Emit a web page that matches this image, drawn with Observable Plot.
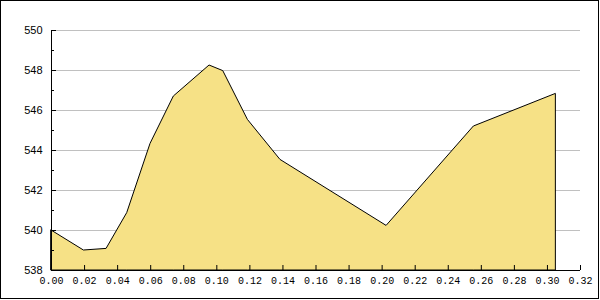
<!DOCTYPE html>
<html>
<head>
<meta charset="utf-8">
<script src="https://cdn.jsdelivr.net/npm/d3@7"></script>
<script src="https://cdn.jsdelivr.net/npm/@observablehq/plot@0.6"></script>
<style>
  html, body { margin: 0; padding: 0; background: #fff; }
  #wrap { position: relative; width: 600px; height: 300px; }
  #frame { position: absolute; left: 0; top: 0; width: 599px; height: 299px; box-sizing: border-box; border: 1px solid #000; pointer-events: none; }
  svg { display: block; }
</style>
</head>
<body>
<div id="wrap"><div id="frame"></div></div>
<script>
const xValues = [0, 0.0196, 0.0333, 0.0458, 0.0599, 0.074, 0.0956, 0.1039, 0.1188, 0.1385, 0.2027, 0.2555, 0.3051];
const yValues = [540.0, 539.0, 539.08, 540.87, 544.33, 546.7, 548.25, 547.97, 545.53, 543.53, 540.23, 545.2, 546.83];
const xTicks = [0, 0.02, 0.04, 0.06, 0.08, 0.10, 0.12, 0.14, 0.16, 0.18, 0.20, 0.22, 0.24, 0.26, 0.28, 0.30, 0.32];
const yTicks = [538, 540, 542, 544, 546, 548, 550];
const yMinorTicks = [539, 541, 543, 545, 547, 549];
const xDomain = [0, 0.32];
const yDomain = [538, 550];

const data = xValues.map((x, i) => ({x, y: yValues[i]}));

const chart = Plot.plot({
  width: 600,
  height: 300,
  marginLeft: 51,
  marginRight: 20,
  marginTop: 30,
  marginBottom: 30,
  x: {domain: xDomain, label: null},
  y: {domain: yDomain, label: null},
  marks: [
    Plot.gridY(yTicks.slice(1), {stroke: "#c0c0c0", strokeOpacity: 1}),
    Plot.areaY(data, {x: "x", y1: yDomain[0], y2: "y", fill: "#f6e186", stroke: "#000", strokeWidth: 1}),
    Plot.axisY(yTicks, {label: null, tickSize: 0, tickPadding: 9, fontFamily: "Liberation Sans", fontSize: 11, fill: "#000"}),
    Plot.axisY(yTicks, {label: null, tickSize: -5, text: null, stroke: "#000"}),
    Plot.axisY(yMinorTicks, {label: null, tickSize: -3, text: null, stroke: "#000"}),
    Plot.axisX(xTicks, {label: null, tickSize: 0, tickPadding: 6, tickFormat: d3.format(".2f"), fontFamily: "Liberation Mono", fontSize: 10, fill: "#000"}),
    Plot.axisX(xTicks, {label: null, tickSize: -5, text: null, stroke: "#000"}),
    Plot.ruleX([xDomain[0]], {stroke: "#000"}),
    Plot.ruleY([yDomain[0]], {stroke: "#000"})
  ]
});
document.getElementById("wrap").prepend(chart);
</script>
</body>
</html>
